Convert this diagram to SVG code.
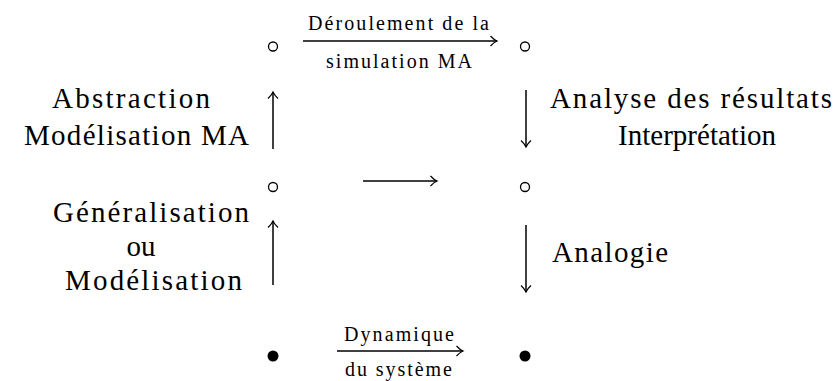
<svg xmlns="http://www.w3.org/2000/svg" width="837" height="381" viewBox="0 0 837 381">
<defs>
<marker id="ah" markerUnits="userSpaceOnUse" markerWidth="20" markerHeight="20" viewBox="-10 -10 20 20" refX="0" refY="0" orient="auto">
<path d="M -6.5 -5 Q -3 -1.2 0 0 Q -3 1.2 -6.5 5" fill="none" stroke="#000" stroke-width="1.2"/>
</marker>
</defs>
<style>
.n{fill:none;stroke:#000;stroke-width:1.3}
.f{fill:#000}
.c{stroke:#000;stroke-width:1.5;fill:none;marker-end:url(#ah)}
.big{font-size:29px;fill:#000}
.sm{font-size:20px;fill:#000}
</style>
<rect width="837" height="381" fill="#fff"/>
<g id="n-top-left"><circle class="n" cx="273" cy="46.5" r="4.5"/></g>
<g id="n-top-right"><circle class="n" cx="525" cy="46.5" r="4.5"/></g>
<g id="n-mid-left"><circle class="n" cx="273" cy="187" r="4.5"/></g>
<g id="n-mid-right"><circle class="n" cx="525" cy="187" r="4.5"/></g>
<g id="n-bot-left"><circle class="f" cx="273" cy="356" r="5.5"/></g>
<g id="n-bot-right"><circle class="f" cx="525" cy="356" r="5.5"/></g>
<g id="connectors" font-family="Liberation Serif, Times New Roman, serif">
<line class="c" x1="303" y1="41" x2="497" y2="41"/>
<line class="c" x1="363" y1="181" x2="437" y2="181"/>
<line class="c" x1="337" y1="351" x2="463" y2="351"/>
<line class="c" x1="273" y1="149" x2="273" y2="92"/>
<line class="c" x1="273" y1="285" x2="273" y2="221"/>
<line class="c" x1="526" y1="90" x2="526" y2="147"/>
<line class="c" x1="526" y1="225" x2="526" y2="292"/>
<text class="sm" x="308" y="30" textLength="181" lengthAdjust="spacing">Déroulement de la</text>
<text class="sm" x="326" y="68" textLength="146" lengthAdjust="spacing">simulation MA</text>
<text class="sm" x="344" y="341" textLength="110" lengthAdjust="spacing">Dynamique</text>
<text class="sm" x="345" y="376" textLength="107" lengthAdjust="spacing">du système</text>
<text class="big" x="52" y="108" textLength="158" lengthAdjust="spacing">Abstraction</text>
<text class="big" x="24" y="145" textLength="225" lengthAdjust="spacing">Modélisation MA</text>
<text class="big" x="53" y="222" textLength="196" lengthAdjust="spacing">Généralisation</text>
<text class="big" x="141" y="256" text-anchor="middle">ou</text>
<text class="big" x="65" y="290" textLength="177" lengthAdjust="spacing">Modélisation</text>
<text class="big" x="550" y="108" textLength="282" lengthAdjust="spacing">Analyse des résultats</text>
<text class="big" x="618" y="145" textLength="158" lengthAdjust="spacing">Interprétation</text>
<text class="big" x="552" y="262" textLength="116" lengthAdjust="spacing">Analogie</text>
</g>
</svg>
